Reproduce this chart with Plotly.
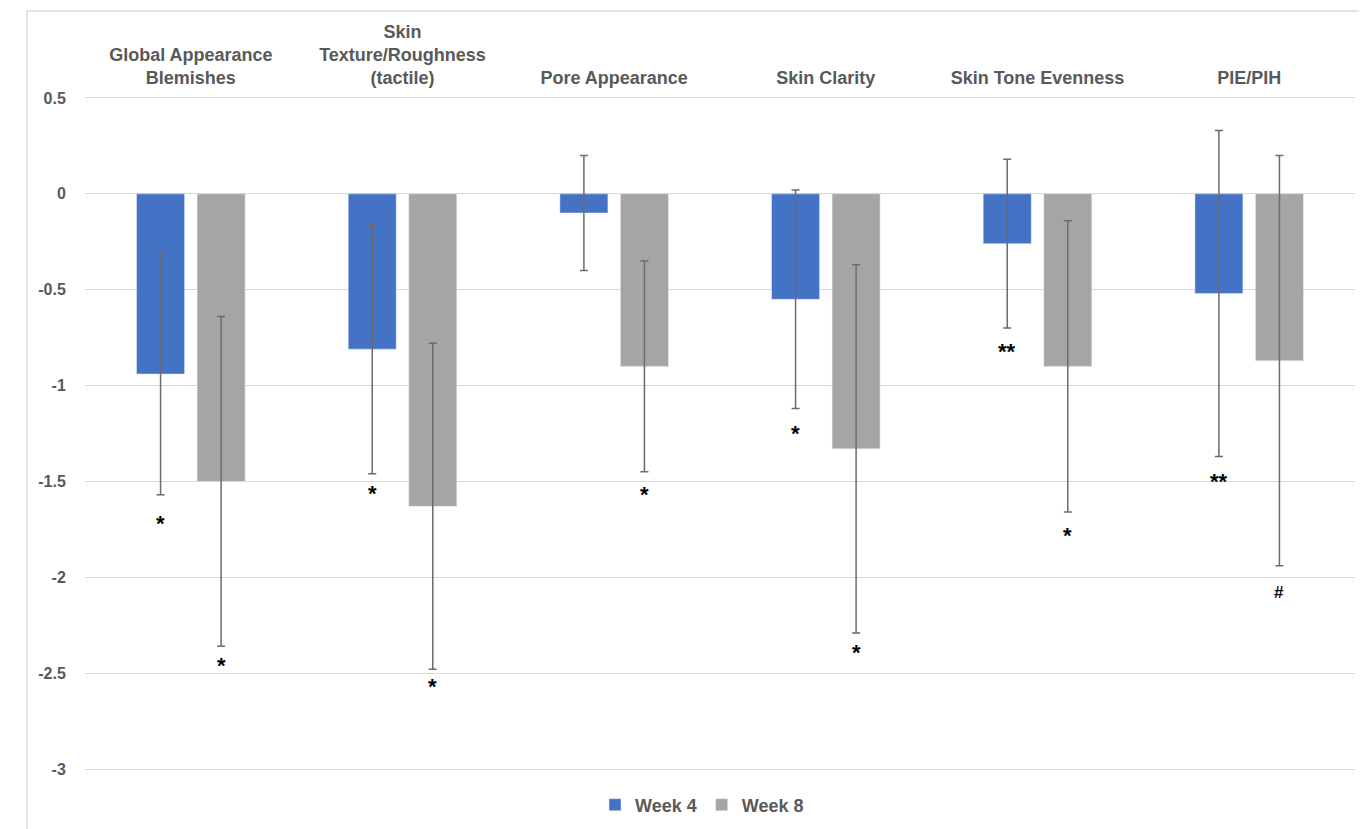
import plotly.graph_objects as go

categories = ["Global Appearance<br>Blemishes", "Skin<br>Texture/Roughness<br>(tactile)",
              "Pore Appearance", "Skin Clarity", "Skin Tone Evenness", "PIE/PIH"]
week4 = [-0.94, -0.81, -0.10, -0.55, -0.26, -0.52]
week4_err = [0.63, 0.65, 0.30, 0.57, 0.44, 0.85]
week8 = [-1.50, -1.63, -0.90, -1.33, -0.90, -0.87]
week8_err = [0.86, 0.85, 0.55, 0.96, 0.76, 1.07]

week4_marks = ["*", "*", "", "*", "**", "**"]
week4_mark_y = [-1.71, -1.55, None, -1.24, -0.81, -1.49]
week8_marks = ["*", "*", "*", "*", "*", "#"]
week8_mark_y = [-2.45, -2.56, -1.56, -2.38, -1.77, -2.08]

y_tickvals = [0.5, 0, -0.5, -1, -1.5, -2, -2.5, -3]
y_ticktext = ["0.5", "0", "-0.5", "-1", "-1.5", "-2", "-2.5", "-3"]

BLUE = "#4472C4"
GRAY = "#A5A5A5"
TXT = "#595959"
ERR = "#6b6b6b"
GRID = "#d9d9d9"
FONT = "Liberation Sans"

bargap = 0.428
fig = go.Figure()
fig.add_trace(go.Bar(x=categories, y=week4, name="Week 4", marker_color=BLUE,
                     error_y=dict(type="data", array=week4_err, color=ERR, thickness=1.5, width=4)))
fig.add_trace(go.Bar(x=categories, y=week8, name="Week 8", marker_color=GRAY,
                     error_y=dict(type="data", array=week8_err, color=ERR, thickness=1.5, width=4)))

off = (1 - bargap) / 4
annotations = []
def mark(x, y, t):
    star = t != "#"
    return dict(x=x, y=y, text=t, showarrow=False, xref="x", yref="y",
                yshift=-2 if star else 0,
                font=dict(family=FONT, size=22 if star else 17, color="black", weight="bold"))
for i in range(len(categories)):
    if week4_marks[i]:
        annotations.append(mark(i - off, week4_mark_y[i], week4_marks[i]))
    if week8_marks[i]:
        annotations.append(mark(i + off, week8_mark_y[i], week8_marks[i]))

# page offset of the figure inside the browser (body margin)
OFS = 8
W, H = 1367, 829
L, R, T, B = 85 - OFS, 20, 96 - OFS, 66
pw, ph = W - L - R, H - T - B
def px(x):
    return (x - OFS - L) / pw
def py(y):
    return (H - B - (y - OFS)) / ph

shapes = [
    dict(type="line", xref="paper", yref="paper", x0=px(27), x1=px(1380), y0=py(11), y1=py(11),
         line=dict(color=GRID, width=1.5)),
    dict(type="line", xref="paper", yref="paper", x0=px(27), x1=px(27), y0=py(11), y1=py(840),
         line=dict(color=GRID, width=1.5)),
]

fig.update_layout(
    width=W, height=H,
    margin=dict(l=L, r=R, t=T, b=B, autoexpand=False),
    plot_bgcolor="white", paper_bgcolor="white",
    barmode="group", bargap=bargap, bargroupgap=0.207,
    font=dict(family=FONT, color=TXT),
    showlegend=True,
    legend=dict(orientation="h", x=px(702), y=py(805), xanchor="center", yanchor="middle",
                font=dict(family=FONT, size=18, color=TXT, weight="bold"),
                traceorder="normal"),
    annotations=annotations,
    shapes=shapes,
    xaxis=dict(side="top", showgrid=False, showline=False, zeroline=False, ticks="",
               tickfont=dict(family=FONT, size=18, color=TXT, weight="bold"),
               ticklabelstandoff=7, fixedrange=True, automargin=False),
    yaxis=dict(range=[-3.01, 0.51], tickvals=y_tickvals, ticktext=y_ticktext, showgrid=True,
               gridcolor=GRID, gridwidth=1.2, zeroline=False, showline=False,
               ticks="outside", ticklen=15, tickcolor="rgba(0,0,0,0)",
               tickfont=dict(family=FONT, size=16, color=TXT, weight="bold"),
               fixedrange=True, automargin=False),
)

fig.write_html("out.html")
